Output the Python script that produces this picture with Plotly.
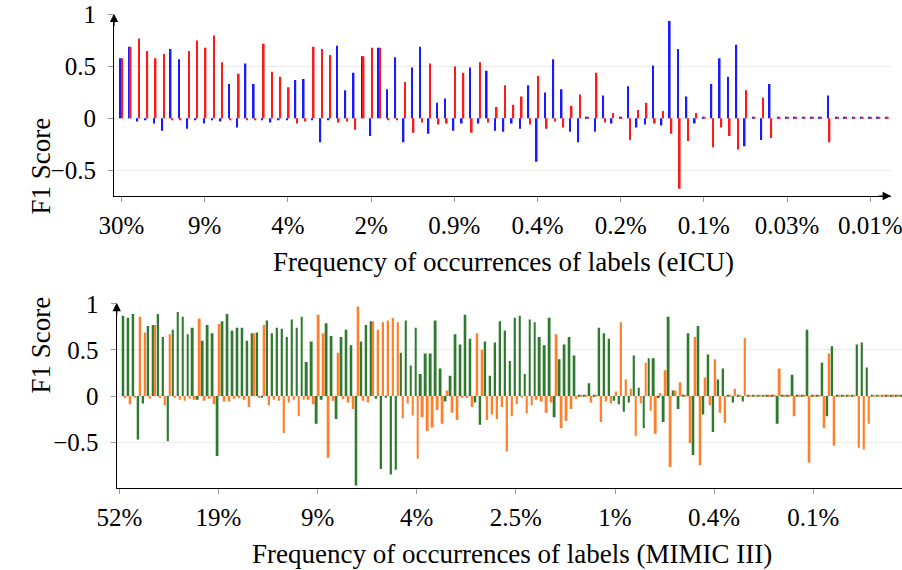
import plotly.graph_objects as go

W, H = 902, 570

# ---------------- eICU ----------------
eicu_tick_labels = ["30%", "9%", "4%", "2%", "0.9%", "0.4%", "0.2%", "0.1%", "0.03%", "0.01%"]
eicu_tick_pos = [0, 10, 20, 30, 40, 50, 60, 70, 80, 90]

eicu_blue = [0.58, 0.69, -0.03, -0.02, -0.05, -0.12, 0.67, 0.57, -0.10, -0.02,
             -0.05, -0.02, -0.03, 0.33, -0.09, 0.53, 0.33, -0.02, -0.04, -0.02,
             -0.02, 0.37, 0.38, -0.02, -0.23, -0.02, 0.70, 0.27, 0.44, 0.60,
             -0.17, 0.68, 0.28, 0.59, -0.23, 0.49, 0.69, -0.15, 0.15, 0.19,
             -0.12, -0.05, 0.49, -0.05, 0.46, -0.12, -0.13, -0.05, -0.10, 0.32,
             -0.42, 0.25, 0.57, 0.28, -0.13, -0.23, 0.01, -0.13, 0.22, -0.05,
             0.01, 0.31, -0.09, -0.06, 0.51, -0.07, 0.94, 0.67, 0.21, -0.05,
             0.01, 0.33, 0.58, 0.40, 0.71, -0.27, 0.01, -0.21, 0.33, 0.01,
             0.01, 0.01, 0.01, 0.01, 0.01, 0.22, 0.01, 0.01, 0.01, 0.01,
             0.01, 0.01, 0.01]

eicu_red = [0.58, 0.69, 0.77, 0.65, 0.58, 0.62, -0.02, -0.02, 0.65, 0.75,
            0.68, 0.80, 0.54, -0.02, 0.43, -0.02, -0.02, 0.72, 0.45, 0.40,
            0.30, -0.05, -0.03, 0.69, 0.67, 0.61, -0.04, -0.03, -0.11, 0.60,
            0.68, 0.68, -0.02, -0.02, 0.35, -0.14, -0.04, 0.53, -0.06, -0.05,
            0.50, 0.44, -0.14, 0.54, -0.04, 0.11, 0.32, 0.13, 0.21, -0.06,
            0.41, -0.10, -0.03, -0.09, 0.12, 0.23, 0.01, 0.44, -0.04, 0.05,
            0.01, -0.21, 0.08, 0.15, -0.05, 0.07, -0.15, -0.68, -0.22, 0.05,
            0.01, -0.28, -0.09, -0.17, -0.30, 0.27, 0.01, 0.20, -0.19, 0.01,
            0.01, 0.01, 0.01, 0.01, 0.01, -0.23, 0.01, 0.01, 0.01, 0.01,
            0.01, 0.01, 0.01]

# ---------------- MIMIC III ----------------
mimic_tick_labels = ["52%", "19%", "9%", "4%", "2.5%", "1%", "0.4%", "0.1%"]
mimic_tick_pos = [0, 20, 40, 60, 80, 100, 120, 140]

mimic_green = [0.87, 0.85, 0.89, -0.47, -0.08, 0.76, 0.77, 0.89, 0.64, -0.49,
               0.72, 0.91, 0.86, 0.67, 0.74, -0.04, 0.60, 0.77, 0.68, -0.65,
               0.81, 0.89, 0.71, 0.74, 0.74, 0.60, 0.68, 0.69, -0.01, 0.82,
               0.68, 0.74, 0.73, 0.64, 0.83, 0.74, 0.86, 0.37, 0.59, -0.30,
               -0.04, 0.79, 0.65, -0.25, 0.64, 0.72, 0.55, -0.97, 0.59, 0.77,
               0.81, -0.03, -0.79, -0.01, -0.85, -0.80, 0.47, 0.82, 0.33, 0.74,
               0.24, 0.46, 0.46, 0.82, 0.30, -0.06, 0.22, 0.67, 0.56, 0.88,
               0.62, -0.07, -0.31, 0.59, 0.22, 0.58, 0.81, 0.71, 0.38, 0.85,
               0.87, 0.24, 0.83, 0.80, 0.64, 0.55, 0.85, -0.23, 0.40, 0.56,
               0.64, 0.44, 0.01, 0.01, 0.14, 0.01, 0.74, 0.68, 0.62, -0.05,
               -0.09, -0.17, -0.07, 0.44, 0.09, -0.35, 0.41, 0.41, -0.02, -0.28,
               0.86, 0.06, -0.14, 0.01, 0.68, -0.64, 0.76, -0.20, 0.45, -0.39,
               0.18, 0.30, 0.01, -0.07, 0.01, -0.06, 0.01, 0.01, 0.01, 0.01,
               0.01, 0.01, -0.30, 0.01, 0.01, 0.23, 0.01, 0.01, 0.72, 0.01,
               0.01, 0.36, -0.22, 0.54, 0.01, 0.01, 0.01, 0.01, 0.56, 0.58,
               0.31, 0.01, 0.01, 0.01, 0.01, 0.01, 0.01, 0.01]

mimic_orange = [-0.02, -0.09, -0.01, 0.86, 0.69, -0.03, 0.77, -0.02, -0.10, 0.67,
                -0.02, -0.04, -0.05, -0.03, -0.04, 0.84, -0.05, -0.03, -0.09, 0.78,
                -0.06, -0.06, -0.03, -0.02, -0.04, -0.12, 0.68, -0.02, 0.77, -0.10,
                -0.04, -0.05, -0.40, -0.07, -0.04, -0.22, -0.04, -0.04, -0.09, 0.88,
                0.68, -0.67, -0.05, 0.47, -0.03, -0.07, -0.14, 0.97, -0.05, -0.07,
                0.81, 0.72, 0.80, 0.82, 0.85, 0.80, -0.24, -0.08, -0.21, -0.68,
                -0.23, -0.38, -0.34, -0.15, -0.30, 0.06, -0.18, -0.26, -0.01, -0.02,
                -0.12, 0.68, 0.50, -0.26, -0.20, -0.25, -0.12, -0.60, -0.22, -0.09,
                -0.01, -0.19, -0.10, -0.04, -0.06, -0.18, -0.07, 0.67, -0.35, -0.27,
                -0.14, -0.03, 0.01, 0.01, -0.07, 0.01, -0.28, -0.06, -0.08, 0.05,
                0.80, 0.18, 0.08, -0.43, -0.08, 0.36, -0.16, -0.41, 0.03, 0.28,
                -0.77, 0.06, 0.15, 0.01, -0.51, 0.64, -0.75, 0.20, -0.10, 0.40,
                -0.18, -0.29, 0.01, 0.08, 0.01, 0.63, 0.01, 0.01, 0.01, 0.01,
                0.01, 0.01, 0.30, 0.01, 0.01, -0.22, 0.01, 0.01, -0.72, 0.01,
                0.01, -0.35, 0.46, -0.54, 0.01, 0.01, 0.01, 0.01, -0.56, -0.58,
                -0.30, 0.01, 0.01, 0.01, 0.01, 0.01, 0.01, 0.01]

y_tick_vals = [-0.5, 0, 0.5, 1]
y_tick_text = ["\u22120.5", "0", "0.5", "1"]

FONT = "Liberation Serif, Times New Roman, serif"
BLUE, RED = "#1a1aff", "#ff1a1a"
GREEN, ORANGE = "#2e7a2e", "#ff7f2a"

eicu_x = list(range(len(eicu_blue)))
mimic_x = list(range(1, len(mimic_green) + 1))

fig = go.Figure()
fig.add_trace(go.Bar(x=eicu_x, y=eicu_blue, width=0.2, offset=-0.2, marker_color=BLUE,
                     marker_line_width=0, xaxis="x", yaxis="y", name="eICU A"))
fig.add_trace(go.Bar(x=eicu_x, y=eicu_red, width=0.2, offset=0.0, marker_color=RED,
                     marker_line_width=0, xaxis="x", yaxis="y", name="eICU B"))
fig.add_trace(go.Bar(x=mimic_x, y=mimic_green, width=0.4, offset=-0.4, marker_color=GREEN,
                     marker_line_width=0, xaxis="x2", yaxis="y2", name="MIMIC A"))
fig.add_trace(go.Bar(x=mimic_x, y=mimic_orange, width=0.4, offset=0.0, marker_color=ORANGE,
                     marker_line_width=0, xaxis="x2", yaxis="y2", name="MIMIC B"))

def px_x(p):
    return p / W

def px_y(p):
    return 1 - p / H

# pixel geometry
T_LEFT, T_RIGHT, T_TOP, T_BOT = 114, 891, 14.7, 196
B_LEFT, B_RIGHT, B_TOP, B_BOT = 116.7, 902, 303.8, 488.3
T_X0, T_STEP = 121.5, 8.32
B_X0, B_STEP = 119.3, 4.957

common_x = dict(showline=True, linecolor="black", linewidth=1.2, showgrid=False, zeroline=False,
                ticks="outside", ticklen=5, tickcolor="#999999", tickwidth=1, automargin=False,
                ticklabeloverflow="allow",
                tickfont=dict(family=FONT, size=25, color="black"), ticklabelstandoff=2)
common_y = dict(showline=True, linecolor="black", linewidth=1.2, showgrid=True, gridcolor="#ebebeb",
                gridwidth=1, zeroline=False, ticks="outside", ticklen=5, tickcolor="#999999",
                tickwidth=1, tickfont=dict(family=FONT, size=25, color="black"), automargin=False,
                tickvals=y_tick_vals, ticktext=y_tick_text, ticklabelstandoff=7)

fig.update_layout(
    width=W, height=H, margin=dict(l=0, r=0, t=0, b=0, autoexpand=False),
    paper_bgcolor="white", plot_bgcolor="white", showlegend=False, barmode="overlay",
    font=dict(family=FONT, size=25, color="black"),
    xaxis=dict(domain=[px_x(T_LEFT), px_x(T_RIGHT)],
               range=[(T_LEFT - T_X0) / T_STEP, (T_RIGHT - T_X0) / T_STEP],
               tickvals=eicu_tick_pos, ticktext=eicu_tick_labels, anchor="y", **common_x),
    yaxis=dict(domain=[px_y(T_BOT), px_y(T_TOP)], range=[-0.75, 1.0], anchor="x", **common_y),
    xaxis2=dict(domain=[px_x(B_LEFT), px_x(B_RIGHT)],
                range=[(B_LEFT - B_X0) / B_STEP, (B_RIGHT - B_X0) / B_STEP],
                tickvals=mimic_tick_pos, ticktext=mimic_tick_labels, anchor="y2", **common_x),
    yaxis2=dict(domain=[px_y(B_BOT), px_y(B_TOP)], range=[-1.0, 1.0], anchor="x2", **common_y),
)

annots = []
# axis arrows
for (xa, ya, ax, ay) in [(T_LEFT, T_TOP - 1, 0, 14), (T_RIGHT, T_BOT, -14, 0), (B_LEFT, B_TOP - 1, 0, 14)]:
    annots.append(dict(x=px_x(xa), y=px_y(ya), xref="paper", yref="paper", text="",
                       showarrow=True, ax=ax, ay=ay, arrowhead=2, arrowsize=1.4,
                       arrowwidth=1.2, arrowcolor="black"))
# titles
title_font = dict(family=FONT, size=27, color="black")
annots.append(dict(x=px_x(23), y=px_y(116), xref="paper", yref="paper", text="F1 Score",
                   textangle=-90, showarrow=False, font=title_font))
annots.append(dict(x=px_x(23), y=px_y(396), xref="paper", yref="paper", text="F1 Score",
                   textangle=-90, showarrow=False, font=title_font))
annots.append(dict(x=px_x(504), y=px_y(262), xref="paper", yref="paper",
                   text="Frequency of occurrences of labels (eICU)", showarrow=False, font=title_font))
annots.append(dict(x=px_x(512), y=0.0, xref="paper", yref="paper", yanchor="bottom",
                   borderpad=0, text="Frequency of occurrences of labels (MIMIC III)",
                   showarrow=False, font=title_font))
fig.update_layout(annotations=annots)

fig.write_html("out.html", config={"displayModeBar": False},
               post_script="document.body.style.margin='0px';document.body.style.overflow='hidden';")
